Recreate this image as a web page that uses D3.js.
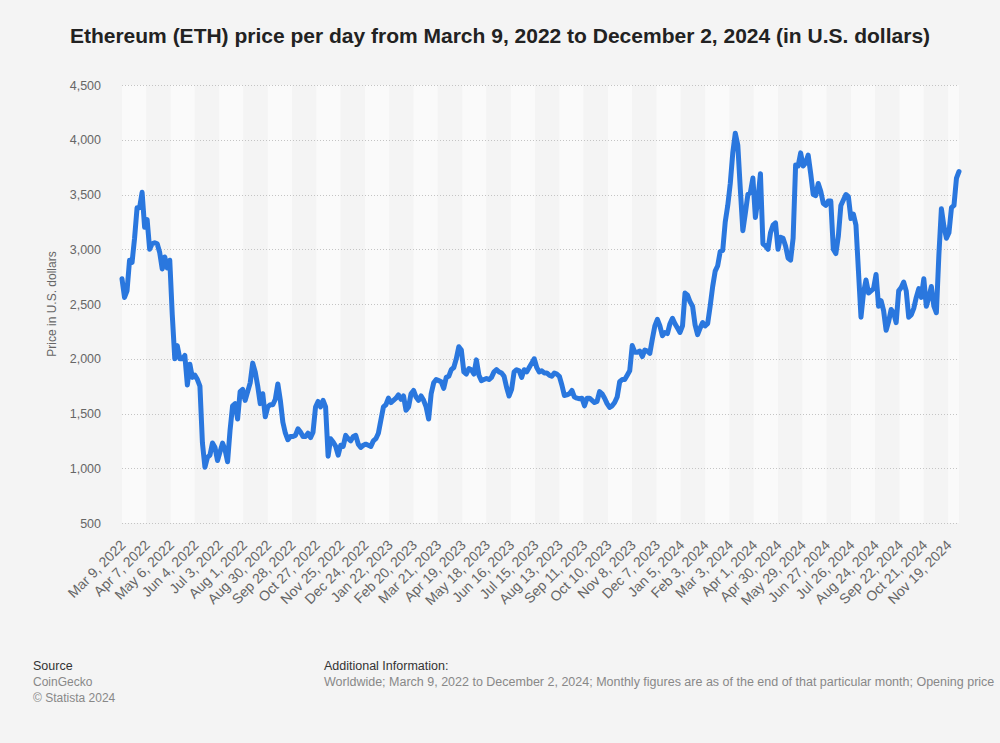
<!DOCTYPE html>
<html>
<head>
<meta charset="utf-8">
<script src="https://cdn.jsdelivr.net/npm/d3@7"></script>
<style>
  html, body { margin: 0; padding: 0; background: #f4f4f4; }
  svg { display: block; font-family: "Liberation Sans", Arial, sans-serif; }
</style>
</head>
<body>
<svg id="chart" width="1000" height="743"></svg>
<script>
// ---------------- DATA ----------------
const startDate = "2022-03-09";
const stepDays = 3; // one reading every 3 days, starting March 9, 2022, ending December 2, 2024

// ETH price (USD), every 3 days
const prices = [
  2730, 2560, 2620, 2900, 2880, 3100, 3380, 3380, 3520, 3200,
  3270, 3000, 3050, 3060, 3050, 2970, 2820, 2930, 2830, 2900,
  2400, 2000, 2120, 2000, 2000, 2030, 1760, 1950, 1830, 1850,
  1810, 1750, 1230, 1010, 1100, 1120, 1230, 1190, 1070, 1150,
  1230, 1170, 1060, 1350, 1570, 1590, 1450, 1700, 1720, 1620,
  1700, 1780, 1960, 1880, 1750, 1590, 1680, 1470, 1560, 1580,
  1580, 1630, 1770, 1620, 1420, 1320, 1260, 1290, 1290, 1300,
  1360, 1330, 1290, 1290, 1320, 1280, 1330, 1560, 1610, 1560,
  1620, 1560, 1110, 1270, 1240, 1200, 1120, 1210, 1200, 1300,
  1270, 1250, 1290, 1300, 1220, 1190, 1210, 1220, 1210, 1200,
  1250, 1270, 1320, 1440, 1560, 1580, 1640, 1600, 1620, 1640,
  1670, 1630, 1660, 1530, 1560, 1680, 1710, 1650, 1620, 1660,
  1620, 1560, 1450, 1680, 1780, 1810, 1800, 1790, 1730, 1830,
  1840, 1900, 1920, 2000, 2110, 2080, 1880, 1860, 1910, 1900,
  1860, 1990, 1850, 1800, 1810, 1820, 1810, 1830, 1880, 1900,
  1880, 1870, 1840, 1740, 1660, 1720, 1880, 1900, 1890, 1830,
  1900, 1880, 1920, 1960, 2000, 1920, 1880, 1890, 1870, 1870,
  1850, 1840, 1870, 1860, 1840, 1760, 1665, 1670, 1680, 1710,
  1650, 1640, 1635, 1640, 1570, 1640, 1640, 1620, 1600, 1610,
  1700, 1680, 1640, 1590, 1555, 1570, 1600, 1650, 1790, 1810,
  1810, 1850, 1890, 2120, 2060, 2060, 2070, 2020, 2080, 2070,
  2050, 2180, 2300, 2360, 2300, 2210, 2240, 2230, 2320, 2370,
  2320, 2280, 2240, 2300, 2600, 2580, 2520, 2480, 2310, 2220,
  2280, 2330, 2300, 2320, 2480, 2660, 2800, 2850, 2980, 2990,
  3250, 3400, 3600, 3880, 4060, 3950, 3550, 3170, 3330, 3500,
  3520, 3650, 3290, 3460, 3690, 3050, 3030, 3000, 3150, 3220,
  3240, 3000, 3110, 3100, 3030, 2920, 2900, 3100, 3770, 3760,
  3880, 3760, 3790, 3860, 3690, 3500, 3490, 3600, 3530, 3420,
  3400, 3440, 3440, 3000, 2960, 3120, 3400, 3450, 3500, 3480,
  3280, 3320, 3220, 2800, 2380, 2600, 2720, 2600, 2620, 2640,
  2770, 2480, 2530, 2440, 2260, 2340, 2450, 2420, 2330, 2620,
  2650, 2700, 2620, 2380, 2400, 2460, 2560, 2640, 2560, 2730,
  2480, 2560, 2660, 2480, 2420, 2950, 3370, 3210, 3100, 3150,
  3380, 3400, 3650, 3710
];

const yTicks = [500, 1000, 1500, 2000, 2500, 3000, 3500, 4000, 4500];

const xTickStepDays = 29;
const xTickLabels = [
  "Mar 9, 2022", "Apr 7, 2022", "May 6, 2022", "Jun 4, 2022", "Jul 3, 2022",
  "Aug 1, 2022", "Aug 30, 2022", "Sep 28, 2022", "Oct 27, 2022", "Nov 25, 2022",
  "Dec 24, 2022", "Jan 22, 2023", "Feb 20, 2023", "Mar 21, 2023", "Apr 19, 2023",
  "May 18, 2023", "Jun 16, 2023", "Jul 15, 2023", "Aug 13, 2023", "Sep 11, 2023",
  "Oct 10, 2023", "Nov 8, 2023", "Dec 7, 2023", "Jan 5, 2024", "Feb 3, 2024",
  "Mar 3, 2024", "Apr 1, 2024", "Apr 30, 2024", "May 29, 2024", "Jun 27, 2024",
  "Jul 26, 2024", "Aug 24, 2024", "Sep 22, 2024", "Oct 21, 2024", "Nov 19, 2024"
];

const titleText = "Ethereum (ETH) price per day from March 9, 2022 to December 2, 2024 (in U.S. dollars)";
const yAxisTitle = "Price in U.S. dollars";
const sourceLines = ["CoinGecko", "© Statista 2024"];
const additionalInfo = "Worldwide; March 9, 2022 to December 2, 2024; Monthly figures are as of the end of that particular month; Opening price";

// ---------------- CHART ----------------
const svg = d3.select("#chart");
const W = 1000, H = 743;
const plot = { left: 122, right: 959, top: 85, bottom: 523 };

const parse = d3.utcParse("%Y-%m-%d");
const start = parse(startDate);
const series = prices.map((v, i) => ({ date: d3.utcDay.offset(start, i * stepDays), value: v }));
const end = series[series.length - 1].date;

const x = d3.scaleUtc().domain([start, end]).range([plot.left, plot.right]);
const y = d3.scaleLinear().domain([500, 4500]).range([plot.bottom, plot.top]);

svg.append("rect").attr("width", W).attr("height", H).attr("fill", "#f4f4f4");

// alternating bands
const tickDates = xTickLabels.map((_, k) => d3.utcDay.offset(start, k * xTickStepDays));
const bandEdges = tickDates.concat([end]);
svg.append("g").selectAll("rect")
  .data(tickDates)
  .join("rect")
  .attr("x", (d) => x(d))
  .attr("y", plot.top)
  .attr("width", (d, i) => x(bandEdges[i + 1]) - x(d))
  .attr("height", plot.bottom - plot.top)
  .attr("fill", (d, i) => (i % 2 === 0 ? "#fafafa" : "#f4f4f4"));

// y gridlines + labels
const yAxis = d3.axisLeft(y).tickValues(yTicks).tickSize(0).tickPadding(0)
  .tickFormat(d3.format(","));
const gy = svg.append("g").attr("transform", `translate(${plot.left - 21},0)`).call(yAxis);
gy.select(".domain").remove();
gy.selectAll("text").attr("fill", "#666").attr("font-size", "12.5px")
  .attr("font-family", "'Liberation Sans', Arial, sans-serif");

svg.append("g").selectAll("line")
  .data(yTicks)
  .join("line")
  .attr("x1", plot.left).attr("x2", plot.right)
  .attr("y1", (d) => Math.round(y(d)) + 0.5).attr("y2", (d) => Math.round(y(d)) + 0.5)
  .attr("stroke", "#c4c4c4").attr("stroke-width", 1).attr("stroke-dasharray", "1,2");

// x labels
const xAxis = d3.axisBottom(x).tickValues(tickDates).tickSize(0).tickPadding(0)
  .tickFormat((d, i) => xTickLabels[i]);
const gx = svg.append("g").attr("transform", `translate(0,${plot.bottom})`).call(xAxis);
gx.select(".domain").remove();
gx.selectAll("text")
  .attr("fill", "#666").attr("font-size", "14px")
  .attr("font-family", "'Liberation Sans', Arial, sans-serif")
  .attr("text-anchor", "end")
  .attr("dy", null).attr("y", 0)
  .attr("transform", "translate(4,23) rotate(-45)");

// line
const line = d3.line().x((d) => x(d.date)).y((d) => y(d.value));
svg.append("path")
  .datum(series)
  .attr("d", line)
  .attr("fill", "none")
  .attr("stroke", "#2a77de")
  .attr("stroke-width", 5)
  .attr("stroke-linejoin", "round")
  .attr("stroke-linecap", "round");

// titles
svg.append("text")
  .attr("x", W / 2).attr("y", 43)
  .attr("text-anchor", "middle")
  .attr("font-size", "21px").attr("font-weight", "bold").attr("fill", "#222")
  .text(titleText);

svg.append("text")
  .attr("transform", `translate(56,${(plot.top + plot.bottom) / 2}) rotate(-90)`)
  .attr("text-anchor", "middle")
  .attr("font-size", "12px").attr("fill", "#666")
  .text(yAxisTitle);

// footer
svg.append("text").attr("x", 33).attr("y", 670).attr("font-size", "12.5px").attr("fill", "#333").text("Source");
svg.append("g").selectAll("text").data(sourceLines).join("text")
  .attr("x", 33).attr("y", (d, i) => 686 + i * 16)
  .attr("font-size", "12px").attr("fill", "#888").text((d) => d);
svg.append("text").attr("x", 324).attr("y", 670).attr("font-size", "12.5px").attr("fill", "#333").text("Additional Information:");
svg.append("text").attr("x", 324).attr("y", 686).attr("font-size", "12.5px").attr("fill", "#888").text(additionalInfo);
</script>
</body>
</html>
